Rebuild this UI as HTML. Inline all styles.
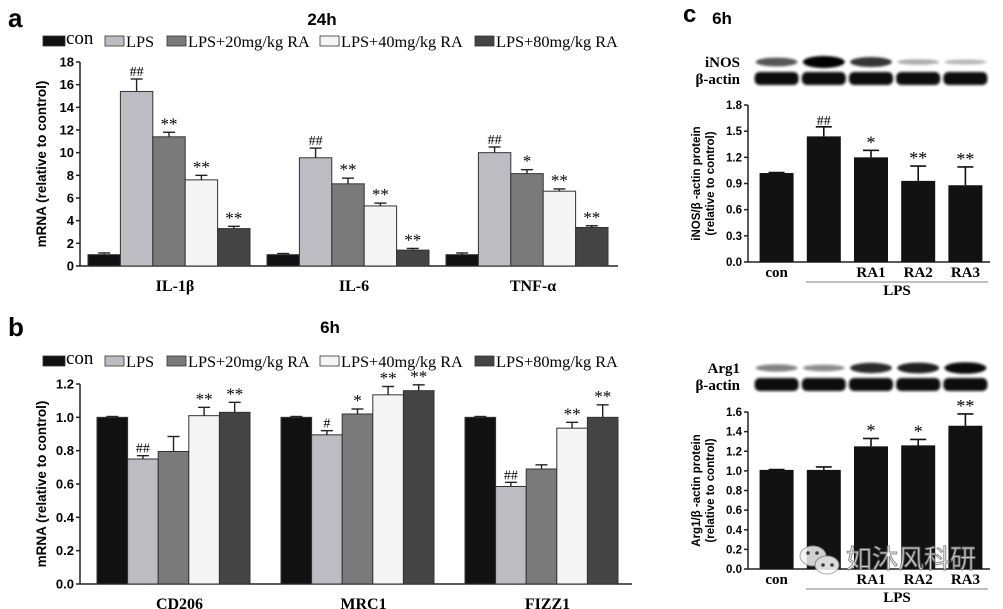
<!DOCTYPE html>
<html><head><meta charset="utf-8">
<style>
html,body{margin:0;padding:0;background:#fff;}
svg{display:block;}
.sans{font-family:"Liberation Sans",Arial,sans-serif;font-weight:bold;}
.serif{font-family:"Liberation Serif","Times New Roman",serif;}
</style></head>
<body>
<svg id="fig" width="1003" height="609" viewBox="0 0 1003 609" xmlns="http://www.w3.org/2000/svg">
<defs><filter id="blur" x="-20%" y="-50%" width="140%" height="200%"><feGaussianBlur stdDeviation="1.4"/></filter></defs>
<text x="8" y="27" class="sans" font-size="26">a</text>
<text x="322" y="25" class="sans" font-size="17" text-anchor="middle">24h</text>
<text x="8" y="336" class="sans" font-size="26">b</text>
<text x="330" y="333" class="sans" font-size="17" text-anchor="middle">6h</text>
<text x="683" y="22" class="sans" font-size="24">c</text>
<text x="722" y="24" class="sans" font-size="17" text-anchor="middle">6h</text>
<g id="gA"></g>
<g id="gB"></g>
<g id="gC1"></g>
<g id="gC2"></g>
<g opacity="0.85">
<ellipse cx="813" cy="556" rx="13" ry="10" fill="#f2f2f2" stroke="#999"/>
<ellipse cx="827" cy="565" rx="12" ry="9" fill="#fff" stroke="#999"/>
<circle cx="808" cy="553" r="1.8" fill="#444"/><circle cx="817" cy="553" r="1.8" fill="#444"/>
<circle cx="823" cy="565" r="1.8" fill="#444"/><circle cx="832" cy="565" r="1.8" fill="#444"/>
<text x="846" y="568" font-size="26" fill="#fff" stroke="#777" stroke-width="1" style="font-family:'Liberation Sans','Noto Sans CJK SC',sans-serif;">如沐风科研</text>
</g>
</svg>
<script>
// ---- Panel a data ----
const seriesNames = ["con","LPS","LPS+20mg/kg RA","LPS+40mg/kg RA","LPS+80mg/kg RA"];
const aCategories = ["IL-1β","IL-6","TNF-α"];
const aValues = [[1.0,15.4,11.4,7.6,3.3],[1.0,9.55,7.25,5.3,1.4],[1.0,10.0,8.15,6.6,3.4]];
const aErrors = [[0.15,1.1,0.4,0.4,0.2],[0.1,0.85,0.5,0.25,0.15],[0.15,0.5,0.35,0.2,0.15]];
const aMarks = [["","##","**","**","**"],["","##","**","**","**"],["","##","*","**","**"]];
const aTicks = [0,2,4,6,8,10,12,14,16,18];
// ---- Panel b data ----
const bCategories = ["CD206","MRC1","FIZZ1"];
const bValues = [[1.0,0.75,0.795,1.01,1.03],[1.0,0.895,1.02,1.135,1.16],[1.0,0.585,0.69,0.935,1.0]];
const bErrors = [[0.005,0.02,0.09,0.05,0.06],[0.005,0.025,0.03,0.05,0.035],[0.005,0.025,0.025,0.035,0.075]];
const bMarks = [["","##","","**","**"],["","#","*","**","**"],["","##","","**","**"]];
const bTicks = ["0.0","0.2","0.4","0.6","0.8","1.0","1.2"];
// ---- Panel c data ----
const cGroups = ["con","","RA1","RA2","RA3"];
const c1Values = [1.02,1.44,1.20,0.93,0.88];
const c1Errors = [0.005,0.11,0.08,0.17,0.21];
const c1Marks = ["","##","*","**","**"];
const c1Ticks = ["0.0","0.3","0.6","0.9","1.2","1.5","1.8"];
const c1BandTop = [0.6,1.0,0.75,0.2,0.15];
const c2Values = [1.01,1.01,1.25,1.26,1.46];
const c2Errors = [0.003,0.03,0.08,0.06,0.12];
const c2Marks = ["","","*","*","**"];
const c2Ticks = ["0.0","0.2","0.4","0.6","0.8","1.0","1.2","1.4","1.6"];
const c2BandTop = [0.4,0.35,0.8,0.85,0.95];

const NS="http://www.w3.org/2000/svg";
const fills=["#111","#bcbcc2","#7a7a7a","#f5f5f5","#444"];
function mk(p,tag,at,txt){const e=document.createElementNS(NS,tag);for(const k in at)e.setAttribute(k,at[k]);if(txt!==undefined)e.textContent=txt;p.appendChild(e);return e;}

function grouped(g,o){
  const y=v=>o.y0-(v-o.min)/(o.max-o.min)*(o.y0-o.yTop);
  const ax=mk(g,"line",{x1:o.ax,y1:o.yTop,x2:o.ax,y2:o.y0,stroke:"#222","stroke-width":1.5});
  
  const bx=mk(g,"line",{x1:o.ax,y1:o.y0,x2:o.axEnd,y2:o.y0,stroke:"#222","stroke-width":1.5});
  
  o.ticks.forEach(t=>{const v=parseFloat(t);const yy=y(v);
    mk(g,"line",{x1:o.ax-4,y1:yy,x2:o.ax,y2:yy,stroke:"#222","stroke-width":1.5});
    const tl=mk(g,"text",{x:o.ax-6,y:yy+4.5,"text-anchor":"end","font-size":13,class:"sans"},t);
    });
  const yt=mk(g,"text",{transform:`translate(${o.ytx},${(o.y0+o.yTop)/2}) rotate(-90)`,"text-anchor":"middle","font-size":13.5,class:"sans"},"mRNA (relative to control)");
  
  o.cats.forEach((c,i)=>{const gx=o.g0+i*o.gStep;
    o.vals[i].forEach((v,j)=>{const x=gx+j*o.bw;const top=y(v);const cx=x+o.bw/2;
      const et=y(v+o.errs[i][j]);
      mk(g,"line",{x1:cx,y1:top,x2:cx,y2:et,stroke:"#222","stroke-width":1.4});
      mk(g,"line",{x1:cx-6,y1:et,x2:cx+6,y2:et,stroke:"#222","stroke-width":1.4});
      const r=mk(g,"rect",{x:x,y:top,width:o.bw,height:o.y0-top,fill:fills[j],stroke:"#333","stroke-width":1});
      
      if(o.marks[i][j]){const m=mk(g,"text",{x:cx,y:et-3,"text-anchor":"middle","font-size":o.marks[i][j][0]=="#"?14:17,class:"serif"},o.marks[i][j]);
        }
    });
    const cl=mk(g,"text",{x:gx+2.5*o.bw+6,y:o.y0+25,"text-anchor":"middle","font-size":16,class:"serif","font-weight":"bold"},c);
    
  });
  const lx=[43,105,167,320,475];
  seriesNames.forEach((n,j)=>{
    const s=mk(g,"rect",{x:lx[j],y:o.ly-5,width:j==0?22:19,height:10,fill:fills[j],stroke:"#333","stroke-width":0.8});
    
    const t=mk(g,"text",{x:lx[j]+(j==0?23:21),y:o.ly+(j==0?3:6),"font-size":j==0?19:16.3,class:"serif"},n);
    
  });
}
grouped(document.getElementById("gA"),{ax:80,axEnd:618,y0:266,yTop:62,min:0,max:18,ticks:aTicks.map(String),ytx:46,g0:88,gStep:179,bw:32.4,cats:aCategories,vals:aValues,errs:aErrors,marks:aMarks,ly:41});
grouped(document.getElementById("gB"),{ax:80,axEnd:632,y0:584,yTop:384,min:0,max:1.2,ticks:bTicks,ytx:46,g0:97,gStep:184,bw:30.6,cats:bCategories,vals:bValues,errs:bErrors,marks:bMarks,ly:361});

function simple(g,o){
  const y=v=>o.y0-v/o.max*(o.y0-o.yTop);
  const ax=mk(g,"line",{x1:o.ax,y1:o.yTop,x2:o.ax,y2:o.y0,stroke:"#222","stroke-width":1.5});
  
  const bx=mk(g,"line",{x1:o.ax,y1:o.y0,x2:990,y2:o.y0,stroke:"#222","stroke-width":1.5});
  
  o.ticks.forEach(t=>{const yy=y(parseFloat(t));
    mk(g,"line",{x1:o.ax-4,y1:yy,x2:o.ax,y2:yy,stroke:"#222","stroke-width":1.5});
    const tl=mk(g,"text",{x:o.ax-6,y:yy+4,"text-anchor":"end","font-size":11.5,class:"sans"},t);
    });
  const mid=(o.y0+o.yTop)/2;
  const t1=mk(g,"text",{transform:`translate(700,${mid}) rotate(-90)`,"text-anchor":"middle","font-size":11.5,class:"sans"},o.title);
  
  const t2=mk(g,"text",{transform:`translate(714,${mid}) rotate(-90)`,"text-anchor":"middle","font-size":11.5,class:"sans"},"(relative to control)");
  
  const x0=753,step=47.2,bw=34;
  o.vals.forEach((v,i)=>{const cx=x0+step*(i+0.5);const top=y(v);const et=y(v+o.errs[i]);
    mk(g,"line",{x1:cx,y1:top,x2:cx,y2:et,stroke:"#111","stroke-width":1.6});
    mk(g,"line",{x1:cx-8,y1:et,x2:cx+8,y2:et,stroke:"#111","stroke-width":1.6});
    const r=mk(g,"rect",{x:cx-bw/2,y:top,width:bw,height:o.y0-top,fill:"#121212"});
    
    if(o.marks[i]){const m=mk(g,"text",{x:cx,y:et-2,"text-anchor":"middle","font-size":o.marks[i][0]=="#"?14:18,class:"serif"},o.marks[i]);
      }
    if(cGroups[i]){const l=mk(g,"text",{x:cx,y:o.y0+15,"text-anchor":"middle","font-size":15,class:"serif","font-weight":"bold"},cGroups[i]);
      }
    const b1=mk(g,"ellipse",{cx:cx,cy:o.by,rx:21,ry:2+4*o.band[i],fill:"#000",opacity:0.15+0.85*o.band[i],filter:"url(#blur)"});
    
    const b2=mk(g,"rect",{x:cx-22,y:o.by+10,width:44,height:13,rx:5,fill:"#111",filter:"url(#blur)"});
    
  });
  mk(g,"line",{x1:806,y1:o.y0+20,x2:988,y2:o.y0+20,stroke:"#555","stroke-width":0.8});
  const lp=mk(g,"text",{x:897,y:o.y0+33,"text-anchor":"middle","font-size":15,class:"serif","font-weight":"bold"},"LPS");
  
  const p1=mk(g,"text",{x:740,y:o.by+5,"text-anchor":"end","font-size":15,class:"serif","font-weight":"bold"},o.prot);
  
  const p2=mk(g,"text",{x:740,y:o.by+22,"text-anchor":"end","font-size":15,class:"serif","font-weight":"bold"},"β-actin");
  
}
simple(document.getElementById("gC1"),{ax:748,y0:262,yTop:105,max:1.8,ticks:c1Ticks,vals:c1Values,errs:c1Errors,marks:c1Marks,title:"iNOS/β -actin protein",band:c1BandTop,by:62,prot:"iNOS"});
simple(document.getElementById("gC2"),{ax:748,y0:569,yTop:412,max:1.6,ticks:c2Ticks,vals:c2Values,errs:c2Errors,marks:c2Marks,title:"Arg1/β -actin protein",band:c2BandTop,by:368,prot:"Arg1"});
</script>
</body></html>
